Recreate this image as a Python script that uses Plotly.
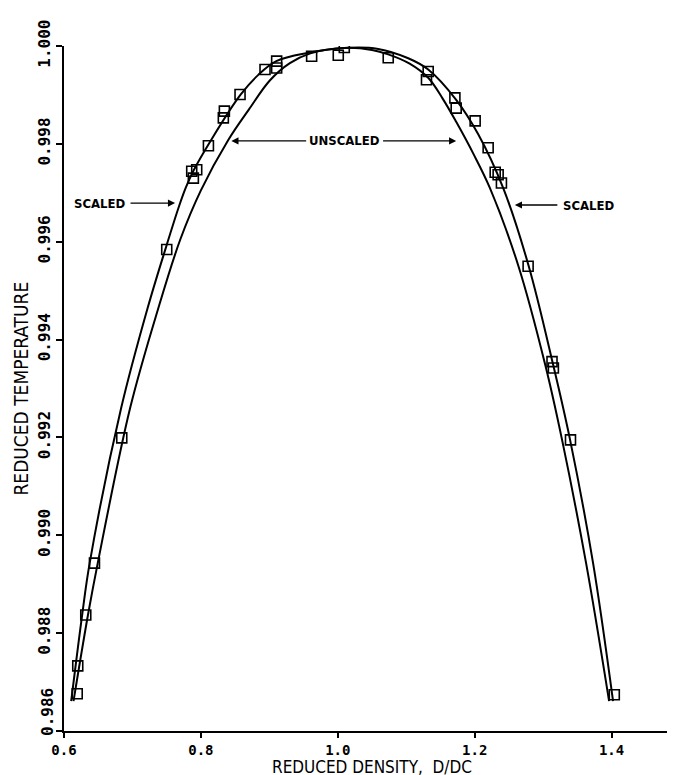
import plotly.graph_objects as go

# ---- data ----
# measured points (open squares)
pts_x = [0.6193, 0.6201, 0.6318, 0.6445, 0.6844, 0.7501, 0.7866, 0.7939, 0.7890,
         0.8110, 0.8328, 0.8343, 0.8572, 0.8937, 0.9107, 0.9107, 0.9618, 1.0007,
         1.0095, 1.0737, 1.1321, 1.1296, 1.1711, 1.1730, 1.2007, 1.2197, 1.2300,
         1.2343, 1.2391, 1.2781, 1.3130, 1.3150, 1.3400, 1.4040]
pts_y = [0.98676, 0.98733, 0.98837, 0.98943, 0.99199, 0.99584, 0.99744, 0.99747, 0.99730,
         0.99796, 0.99853, 0.99867, 0.99901, 0.99952, 0.99969, 0.99955, 0.99979, 0.99981,
         0.99997, 0.99976, 0.99948, 0.99931, 0.99894, 0.99873, 0.99847, 0.99792, 0.99742,
         0.99737, 0.99720, 0.99550, 0.99355, 0.99342, 0.99195, 0.98674]

# SCALED curve (outer)
scaled_x = [0.6105, 0.6265, 0.6375, 0.6835, 0.7223, 0.7493, 0.7672, 0.7778, 0.7891, 0.8150,
            0.8577, 0.8839, 0.9102, 0.9569, 1.0095, 1.0591, 1.1029, 1.1321, 1.1730,
            1.2050, 1.2416, 1.2790, 1.3146, 1.3394, 1.3730, 1.4022]
scaled_y = [0.98661, 0.98837, 0.98943, 0.99260, 0.99465, 0.99590, 0.99669, 0.99710, 0.99745, 0.99808,
            0.99900, 0.99941, 0.99969, 0.99986, 0.99996, 0.99994, 0.99975, 0.99952, 0.99890,
            0.99820, 0.99710, 0.99550, 0.99349, 0.99195, 0.98943, 0.98661]

# UNSCALED curve (inner)
unscaled_x = [0.6139, 0.6350, 0.6493, 0.6966, 0.7380, 0.7700, 0.8000, 0.8400, 0.8700, 0.9010,
              0.9300, 0.9600, 1.0095, 1.0500, 1.0737, 1.1050, 1.1321, 1.1530, 1.1730, 1.1980,
              1.2222, 1.2640, 1.3030, 1.3277, 1.3628, 1.3964]
unscaled_y = [0.98661, 0.98837, 0.98943, 0.99260, 0.99465, 0.99605, 0.99705, 0.99808, 0.99870, 0.99930,
              0.99965, 0.99985, 0.99996, 0.99992, 0.99983, 0.99964, 0.99935, 0.99893, 0.99845, 0.99780,
              0.99710, 0.99550, 0.99349, 0.99195, 0.98943, 0.98661]

x_ticks = [0.6, 0.8, 1.0, 1.2, 1.4]
x_ticktext = ["0.6", "0.8", "1.0", "1.2", "1.4"]
y_ticks = [0.986, 0.988, 0.990, 0.992, 0.994, 0.996, 0.998, 1.000]
y_ticktext = ["0.986", "0.988", "0.990", "0.992", "0.994", "0.996", "0.998", "1.000"]

x_title = "REDUCED DENSITY,  D/DC"
y_title = "REDUCED TEMPERATURE"

# ---- figure ----
tick_font = dict(family="DejaVu Sans Mono, Liberation Mono, monospace", size=14, color="black", weight="bold")
ytick_font = dict(family="DejaVu Sans Mono, Liberation Mono, monospace", size=16, color="black", weight="bold")
title_font = dict(family="Liberation Sans Narrow, DejaVu Sans Condensed, sans-serif", size=17, color="black")
label_font = dict(family="Liberation Sans Narrow, DejaVu Sans Condensed, sans-serif", size=13, color="black")

fig = go.Figure()
line_style = dict(color="black", width=2)
fig.add_trace(go.Scatter(x=scaled_x, y=scaled_y, mode="lines",
                         line=dict(shape="spline", smoothing=1.0, **line_style),
                         showlegend=False, hoverinfo="skip"))
fig.add_trace(go.Scatter(x=unscaled_x, y=unscaled_y, mode="lines",
                         line=dict(shape="spline", smoothing=1.0, **line_style),
                         showlegend=False, hoverinfo="skip"))
fig.add_trace(go.Scatter(x=pts_x, y=pts_y, mode="markers",
                         marker=dict(symbol="square-open", size=10, color="black",
                                     line=dict(width=1.6, color="black")),
                         showlegend=False))

ann = []


def arrow(tip_x, tip_y, tail_x, tail_y):
    ann.append(dict(x=tip_x, y=tip_y, ax=tail_x, ay=tail_y, xref="x", yref="y", axref="x", ayref="y",
                    text="", showarrow=True, arrowhead=2, arrowsize=1.1, arrowwidth=1.3,
                    arrowcolor="black"))


def label(x, y, text):
    ann.append(dict(x=x, y=y, xref="x", yref="y", text="<b>" + text + "</b>", showarrow=False,
                    font=label_font, xanchor="center", yanchor="middle"))


# left SCALED
label(0.6526, 0.99679, "SCALED")
arrow(0.7623, 0.99679, 0.6950, 0.99679)
# UNSCALED
label(1.0095, 0.99806, "UNSCALED")
arrow(0.8445, 0.99806, 0.9560, 0.99806)
arrow(1.1730, 0.99806, 1.0640, 0.99806)
# right SCALED
label(1.3664, 0.99675, "SCALED")
arrow(1.2587, 0.99675, 1.3230, 0.99675)

# bottom y tick label lifted clear of the x axis, as in the original
ann.append(dict(x=0, y=0.986, xref="paper", yref="y", text="<b>0.986</b>", showarrow=False,
                textangle=-90, font=ytick_font, xanchor="center", yanchor="middle",
                xshift=-17, yshift=19))

# axis titles
ann.append(dict(x=0.5, y=0, xref="paper", yref="paper", text=x_title, showarrow=False,
                font=title_font, xanchor="center", yanchor="middle", yshift=-36))
ann.append(dict(x=0, y=0.5, xref="paper", yref="paper", text=y_title, showarrow=False,
                font=dict(title_font, size=19), textangle=-90, xanchor="center", yanchor="middle",
                xshift=-44))

y_ticktext_shown = [""] + y_ticktext[1:]

fig.update_layout(
    width=675, height=775,
    margin=dict(l=56, r=3, t=38, b=52),
    paper_bgcolor="white", plot_bgcolor="white",
    annotations=ann,
)
fig.update_xaxes(range=[0.6, 1.5], tickvals=x_ticks, ticktext=x_ticktext, tickfont=tick_font,
                 showline=True, linewidth=2, linecolor="black", ticks="outside", ticklen=5, tickwidth=2,
                 tickcolor="black", showgrid=False, zeroline=False)
fig.update_yaxes(range=[0.986, 1.000], tickvals=y_ticks, ticktext=y_ticktext_shown, tickfont=ytick_font,
                 tickangle=-90, showline=True, linewidth=2, linecolor="black", ticks="outside", ticklen=6,
                 tickwidth=2, tickcolor="black", showgrid=False, zeroline=False)

fig.write_html("out.html")
